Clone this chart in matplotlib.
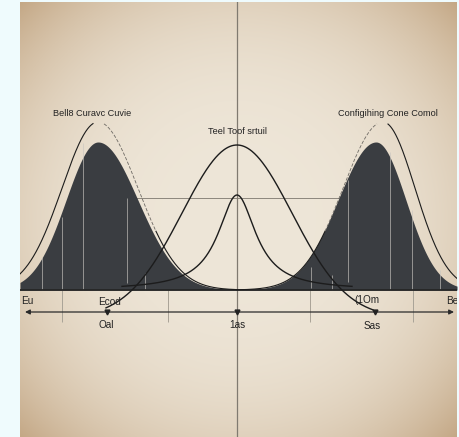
import numpy as np
import matplotlib
matplotlib.use('Agg')
import matplotlib.pyplot as plt

# units: x = pixels from the centre line, y = pixels above the baseline
# dark filled bells (left, right)
fill_centre = [-139, 139]
fill_peak = [148, 148]
fill_sig_l = [32, 38]
fill_sig_r = [40, 30]

# thin outline bells (left, right)
line_centre = [-139, 146]
line_peak = [168, 168]
line_sig_l = [36, 40]
line_sig_r = [40, 32]

# central curves
wide_peak = 145
wide_base = -28
wide_sigma = 55
wide_span = [-131, 136]
narrow_peak = 95
narrow_gamma = 23
narrow_span = [-115, 115]

# light rules inside the dark bells: x, top, bottom
inner_x = [-195, -175, -154, -110, -92, 74, 95, 111, 153, 175, 203]
inner_top = [33, 73, 147, 92, 17, 23, 15, 110, 138, 80, 20]
inner_bot = [0, 0, 0, 7, 0, 2, 0, 8, 0, 0, 0]
below_x = [-175, -69, 73, 176]
below_depth = -32

guide_y = 92
guide_span = [-104, 103]
axis_y = -22
axis_span = [-212, 217]
dots_x = [-130, 0, 138]

titles = ['Bell8 Curavc Cuvie', 'Teel Toof srtuil', 'Configihing Cone Comol']
title_x = [-145, 1, 151]
title_y = [177, 159, 177]
labels = ['Eu', 'Ecod', '(1Om', 'Be', 'Oal', '1as', 'Sas']
label_x = [-210, -127, 130, 215, -131, 0, 135]
label_y = [-11, -12, -10, -11, -35, -35, -36]


def bell(x, c, h, sl, sr):
    s = np.where(x < c, sl, sr)
    return h * np.exp(-(x - c) ** 2 / (2.0 * s ** 2))


fig = plt.figure(figsize=(4.6, 4.37), dpi=100)
fig.patch.set_facecolor('#effbfd')
ax = fig.add_axes([20 / 460, 0, 437 / 460, 435 / 437])
x0, x1, y0, y1 = -217, 220, -147, 288
ax.set_xlim(x0, x1)
ax.set_ylim(y0, y1)
ax.axis('off')

# paper vignette
u, v = np.meshgrid(np.linspace(-1, 1, 300), np.linspace(-1, 1, 300))
t = np.clip(np.sqrt(u ** 2 + v ** 2) / np.sqrt(2), 0, 1) ** 3.2
c0 = np.array([238, 230, 216]) / 255
c1 = np.array([196, 168, 134]) / 255
img = c0[None, None, :] * (1 - t[..., None]) + c1[None, None, :] * t[..., None]
ax.imshow(img, extent=[x0, x1, y0, y1], aspect='auto', zorder=0)

xs = np.linspace(x0, x1, 1200)
ink = '#1c1c1c'

# dark bells
for i in range(2):
    if fill_centre[i] < 0:
        m = xs <= 0
    else:
        m = xs >= 0
    yy = bell(xs[m], fill_centre[i], fill_peak[i], fill_sig_l[i], fill_sig_r[i])
    ax.fill_between(xs[m], 0, yy, color='#3a3d41', lw=0, zorder=2)

# rules inside them
ax.vlines(inner_x, inner_bot, inner_top, color='#c9c6c0', lw=0.6, alpha=0.75, zorder=3)
ax.vlines(below_x, below_depth, 0, color='#a9a397', lw=0.7, zorder=1)
ax.hlines(guide_y, guide_span[0], guide_span[1], color='#8d877d', lw=0.7, zorder=1)
ax.axvline(0, color='#807a70', lw=0.9, zorder=1)

# outline bells, faint dashes over the inner flank
for i in range(2):
    c = line_centre[i]
    if c < 0:
        seg_solid = [(x0, c - 5), (c + 58, 0)]
        seg_dash = (c + 6, c + 58)
    else:
        seg_solid = [(0, c - 58), (c + 5, x1)]
        seg_dash = (c - 58, c - 6)
    for a, b in seg_solid:
        xx = np.linspace(a, b, 300)
        ax.plot(xx, bell(xx, c, line_peak[i], line_sig_l[i], line_sig_r[i]),
                color=ink, lw=0.8, zorder=4)
    xx = np.linspace(seg_dash[0], seg_dash[1], 200)
    ax.plot(xx, bell(xx, c, line_peak[i], line_sig_l[i], line_sig_r[i]),
            color='#6e6a64', lw=0.6, ls=(0, (4, 2)), zorder=4)

# baseline
ax.axhline(0, color='#262626', lw=1.3, zorder=3)

# central curves
xw = np.linspace(wide_span[0], wide_span[1], 400)
ax.plot(xw, wide_base + (wide_peak - wide_base) * np.exp(-xw ** 2 / (2.0 * wide_sigma ** 2)),
        color=ink, lw=1.0, zorder=5)
xn = np.linspace(narrow_span[0], narrow_span[1], 400)
ax.plot(xn, narrow_peak / (1 + (xn / narrow_gamma) ** 2), color=ink, lw=1.0, zorder=5)

# bottom axis
ax.annotate('', xy=(axis_span[0], axis_y), xytext=(axis_span[1], axis_y),
            arrowprops=dict(arrowstyle='<|-|>', color='#2a2a2a', lw=0.9,
                            mutation_scale=7, shrinkA=0, shrinkB=0), zorder=5)
ax.plot(dots_x, [axis_y] * len(dots_x), ls='none', marker='v', ms=3.5,
        color='#222222', zorder=6)

fam = ['Liberation Sans Narrow', 'Liberation Sans', 'DejaVu Sans']
for s, x, y in zip(titles, title_x, title_y):
    ax.text(x, y, s, ha='center', va='center', fontsize=6.6, family=fam,
            color='#222222', zorder=6)
for s, x, y in zip(labels, label_x, label_y):
    ax.text(x, y, s, ha='center', va='center', fontsize=7.2, family=fam,
            color='#222222', zorder=6, clip_on=True)

fig.savefig('out.png', dpi=100, facecolor=fig.get_facecolor())
